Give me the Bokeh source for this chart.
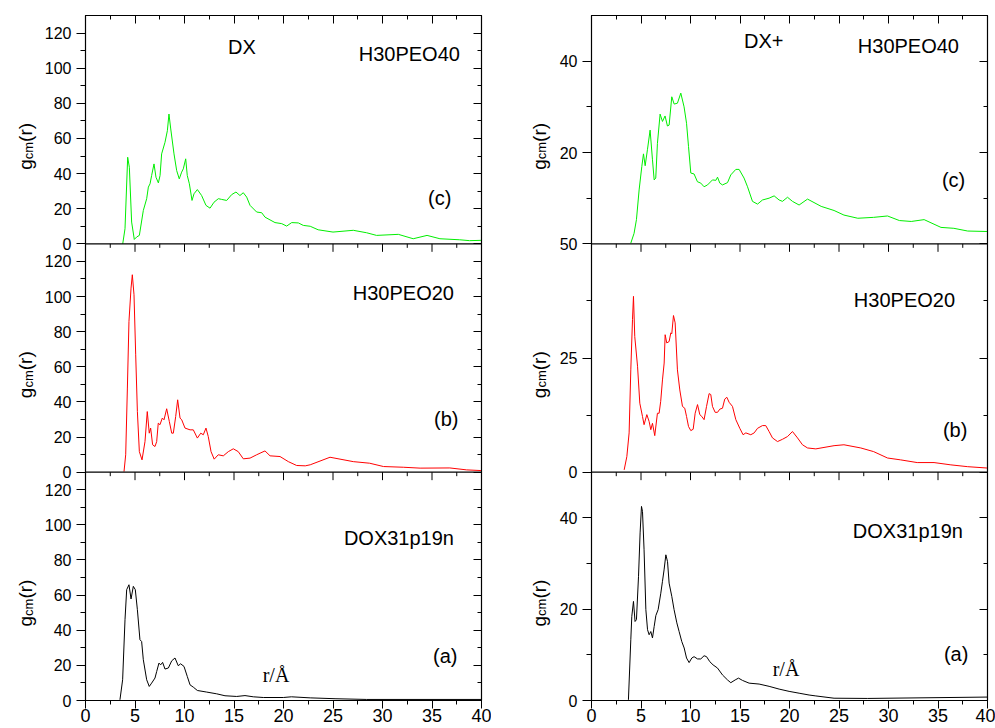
import math
from bokeh.plotting import figure
from bokeh.models import Range1d, LinearAxis, FixedTicker, Label, Span
from bokeh.layouts import row
from bokeh.embed import file_html
from bokeh.resources import INLINE

# ---------------- data ----------------
# Left column: DX
dx_c_r = [3.76, 3.99, 4.26, 4.43, 4.66, 4.93, 5.17, 5.44, 5.84, 6.18, 6.35, 6.52, 6.68, 6.92, 7.12, 7.36,
          7.53, 7.69, 8.03, 8.27, 8.43, 8.61, 8.94, 9.21, 9.47, 9.71, 9.88, 10.12, 10.28, 10.49, 10.76,
          10.96, 11.3, 11.73, 12.17, 12.58, 12.98, 13.42, 13.75, 14.26, 14.76, 15.2, 15.6, 15.94, 16.28,
          16.62, 17.29, 17.8, 18.13, 19.14, 19.82, 20.32, 20.83, 21.5, 22.0, 22.7, 23.5, 25.0, 27.05,
          28.4, 29.4, 31.6, 33.1, 34.5, 35.8, 37.8, 38.8, 40.0]
dx_c_g = [0, 8.6, 49.3, 43.6, 12.4, 2.5, 3.9, 4.8, 19, 25.7, 32.3, 34.2, 38.9, 45.5, 37.9, 34.7, 38.9,
          51.2, 57.8, 64.4, 73.9, 65.4, 51.2, 41.7, 37, 40.8, 42.7, 48.4, 38.9, 34.2, 24.7, 28.5, 30.9,
          27.5, 21.9, 20.3, 23.7, 25.7, 25.3, 24.7, 28, 29.5, 27.5, 29.1, 26.6, 21.9, 18.1, 17.7, 15.2,
          12.1, 11.5, 10.1, 12.1, 11.9, 10.5, 10, 8, 6.7, 7.7, 6.3, 4.8, 5.4, 2.9, 4.8, 2.9, 2.3, 1.8, 2.0]

dx_b_r = [3.89, 4.06, 4.23, 4.39, 4.6, 4.73, 4.9, 5.07, 5.24, 5.44, 5.71, 6.01, 6.24, 6.44, 6.58, 6.78,
          7.02, 7.19, 7.35, 7.52, 7.76, 7.93, 8.2, 8.47, 8.71, 8.87, 9.11, 9.31, 9.55, 9.72, 10.05, 10.56,
          10.89, 11.3, 11.64, 11.9, 12.17, 12.4, 12.68, 13.0, 13.41, 13.92, 14.43, 14.93, 15.43, 15.94,
          16.62, 17.29, 17.63, 18.13, 18.64, 19.65, 20.49, 21.33, 22.2, 22.7, 24.7, 27.05, 28.7, 30.1,
          32.1, 33.8, 36.8, 38.5, 40.0]
dx_b_g = [0.3, 9.9, 47.9, 85.8, 104.8, 112.4, 101, 66.8, 34.5, 11.7, 7, 17.4, 34.5, 22.2, 25.1, 15.6,
          14.6, 17.4, 27.9, 27, 30.8, 29.8, 36.1, 28.8, 22.2, 22.2, 31.7, 41.2, 30.8, 29.8, 25.1, 24.1,
          24.1, 19.4, 22.2, 21.3, 25.1, 20.3, 11.7, 7.4, 9.9, 9.3, 11.7, 13.3, 11.7, 7.6, 8, 9.9, 10.8,
          12.1, 9.3, 8.9, 6, 3.8, 3.6, 4.2, 8.5, 6, 5.1, 3.2, 2.8, 2.3, 2.4, 1.3, 0.9]

dx_a_r = [3.48, 3.75, 3.99, 4.16, 4.39, 4.6, 4.83, 5.03, 5.24, 5.5, 5.67, 5.84, 6.18, 6.44, 6.68, 7.02,
          7.19, 7.42, 7.59, 7.79, 8.03, 8.37, 8.71, 9.04, 9.37, 9.61, 9.95, 10.28, 10.56, 10.89, 11.3,
          12.24, 13.25, 14.09, 15.27, 16.11, 16.95, 17.96, 19.98, 20.8, 22.7, 25.3, 28.4, 40.0]
dx_a_g = [0.4, 11.8, 46, 63.1, 65.9, 57.8, 65, 63.1, 51.7, 34.6, 33.6, 23.2, 11.8, 8, 9.9, 12.8, 16.5,
          21.3, 20.3, 21.7, 17.9, 18.5, 22.6, 24.2, 19.8, 20.9, 19.4, 13.7, 8.9, 7.6, 5.7, 4.8, 3.8, 2.7,
          2.3, 2.8, 2.1, 1.7, 1.7, 2.1, 1.5, 1.0, 0.6, 0.6]

# Right column: DX+
dxp_c_r = [3.97, 4.3, 4.54, 4.81, 5.08, 5.25, 5.42, 5.65, 5.92, 6.16, 6.33, 6.49, 6.66, 6.93, 7.17, 7.43,
           7.67, 7.84, 8.11, 8.35, 8.68, 9.02, 9.35, 9.6, 9.8, 10.03, 10.36, 10.7, 11.04, 11.37, 11.72,
           12.22, 12.56, 12.73, 12.96, 13.23, 13.74, 14.07, 14.58, 14.91, 15.41, 15.76, 16.26, 16.77,
           17.27, 17.94, 18.45, 18.95, 19.29, 19.8, 20.3, 20.97, 21.82, 23.2, 24.5, 25.5, 26.9, 28.5,
           29.9, 31.1, 32.3, 33.6, 35.3, 36.6, 38.0, 40.0]
dxp_c_g = [0.15, 2.3, 5.3, 11.8, 16.9, 19.7, 17.1, 20.6, 24.9, 18.4, 14, 14.4, 22, 28.4, 26.8, 28, 25.8,
           26, 32.2, 30.6, 30.8, 33, 30, 26.4, 21.3, 15.5, 15.3, 13.6, 13.3, 12.5, 12.9, 14, 13.9, 14.6,
           13.3, 12.9, 13.4, 15.1, 16.3, 16.3, 14.4, 12.5, 9.3, 8.7, 9.6, 10, 10.5, 9.6, 9.3, 10.2, 9.3,
           8.5, 9.8, 8.2, 7.3, 6.3, 5.6, 5.8, 6.1, 5.1, 4.9, 5.3, 3.6, 3.4, 2.8, 2.7]

dxp_b_r = [3.3, 3.57, 3.8, 3.97, 4.14, 4.24, 4.37, 4.65, 4.88, 5.15, 5.31, 5.59, 5.82, 5.99, 6.16, 6.39,
           6.66, 6.83, 6.99, 7.17, 7.34, 7.44, 7.6, 7.84, 8.01, 8.11, 8.28, 8.45, 8.68, 8.92, 9.19, 9.42,
           9.6, 9.8, 10.03, 10.27, 10.47, 10.71, 10.94, 11.14, 11.37, 11.62, 11.88, 12.05, 12.22, 12.49,
           12.73, 12.96, 13.23, 13.46, 13.67, 13.9, 14.24, 14.58, 14.98, 15.31, 15.59, 16.09, 16.43,
           16.77, 17.27, 17.6, 17.94, 18.28, 18.79, 19.29, 19.8, 20.3, 20.81, 21.31, 21.82, 22.66, 24.5,
           25.5, 27.2, 28.5, 29.9, 31.2, 32.9, 34.6, 36.3, 38.0, 40.0]
dxp_b_g = [0.5, 3.4, 8.6, 22.4, 33.4, 38.5, 29.7, 23.2, 15.1, 12.2, 10.4, 12.6, 11.1, 9.3, 10.7, 8, 12.9,
           12.9, 15.5, 20.2, 23.9, 30.1, 28.3, 28.6, 30.5, 30.3, 34.3, 32.7, 22.4, 18, 14.4, 14, 12.2, 10,
           9.1, 9.4, 12.9, 14.8, 12.6, 12.2, 11.5, 14.4, 17.2, 17, 14.4, 13.1, 13.1, 13.8, 14, 16, 16.4,
           15.3, 14.4, 11.5, 9.6, 8.2, 8.6, 8.2, 8.6, 9.6, 10.2, 10.2, 8.9, 7.5, 6.7, 7.2, 7.8, 8.9, 7.5,
           6, 5.3, 5.1, 5.8, 6, 5.3, 4.5, 3.1, 2.7, 2.1, 2.1, 1.6, 1.2, 0.9]

dxp_a_r = [3.73, 3.97, 4.07, 4.24, 4.4, 4.54, 4.75, 4.91, 5.05, 5.15, 5.31, 5.49, 5.66, 5.82, 5.99, 6.16,
           6.33, 6.5, 6.73, 7.0, 7.17, 7.33, 7.51, 7.68, 7.84, 8.11, 8.34, 8.62, 8.85, 9.12, 9.36, 9.6,
           9.86, 10.13, 10.36, 10.71, 11.04, 11.37, 11.62, 11.95, 12.28, 12.73, 13.23, 13.74, 14.07,
           14.51, 14.85, 15.25, 15.92, 16.93, 17.94, 18.95, 19.96, 20.97, 21.98, 22.66, 24.5, 27.9, 40.0]
dxp_a_g = [0.15, 13.3, 18.4, 21.7, 17.3, 17.7, 27.2, 36.7, 42.5, 41.4, 33, 19.9, 15.5, 14.4, 15.1, 13.7,
           16.2, 18.6, 19.9, 23.5, 26.1, 28.6, 31.9, 30.4, 25.7, 22.8, 19.9, 17, 15.1, 12.9, 11.5, 9.3,
           8.3, 9.3, 9.6, 9.1, 9.1, 9.8, 9.6, 8.5, 7.8, 7.1, 5.6, 4.5, 3.9, 4.5, 4.9, 4.4, 3.8, 3.6, 3.1,
           2.5, 2, 1.6, 1.2, 1.0, 0.5, 0.45, 0.75]

x_major = [0, 5, 10, 15, 20, 25, 30, 35, 40]
x_minor = [2.5, 7.5, 12.5, 17.5, 22.5, 27.5, 32.5, 37.5]

# y ticks of each panel (panel units)
left_major = [0, 20, 40, 60, 80, 100, 120]
left_minor = [10, 30, 50, 70, 90, 110]
right_a_major, right_a_minor = [0, 20, 40], [10, 30]
right_b_major, right_b_minor = [0, 25, 50], [12.5, 37.5]
right_c_major, right_c_minor = [20, 40], [10, 30]

FONT = "Liberation Sans"
SERIF = "Liberation Serif"

TOP, BOT = 15, 28
H = 728
FRAME_H = H - TOP - BOT


def num(v):
    return int(v) if float(v).is_integer() else v


def panel_ranges(span, n):
    total = span * n
    names = ["a", "b", "c"][:n]
    return {name: Range1d(-i * span, total - i * span) for i, name in enumerate(names)}


def build(width, bl, br, span, panels, ticks):
    """panels: list of (name, xs, ys, color) from bottom to top; each panel spans `span` units."""
    n = len(panels)
    total = span * n
    p = figure(width=width, height=H, output_backend="svg", toolbar_location=None,
               x_range=Range1d(0, 40), y_range=Range1d(0, total),
               x_axis_location=None, y_axis_location=None,
               min_border_left=bl, min_border_right=br, min_border_top=TOP, min_border_bottom=BOT,
               background_fill_color="white", border_fill_color="white")
    p.xgrid.visible = False
    p.ygrid.visible = False
    p.outline_line_color = "black"
    p.outline_line_width = 1.2
    p.extra_y_ranges = panel_ranges(span, n)

    major, minor, over = ticks
    ya = LinearAxis(ticker=FixedTicker(ticks=major, minor_ticks=minor),
                    major_label_overrides=over,
                    major_tick_out=9, major_tick_in=0, minor_tick_out=5, minor_tick_in=0,
                    major_label_standoff=5, major_label_text_font=FONT,
                    major_label_text_font_size="16px", major_label_text_color="black",
                    axis_line_color="black")
    p.add_layout(ya, "left")
    ra = LinearAxis(ticker=FixedTicker(ticks=major, minor_ticks=minor),
                    major_tick_in=8, major_tick_out=0, minor_tick_in=4, minor_tick_out=0,
                    major_label_text_color=None, axis_line_color="black")
    p.add_layout(ra, "right")
    ta = LinearAxis(ticker=FixedTicker(ticks=x_major, minor_ticks=x_minor),
                    major_tick_in=8, major_tick_out=0, minor_tick_in=4, minor_tick_out=0,
                    major_label_text_color=None, axis_line_color="black")
    p.add_layout(ta, "above")
    xa = LinearAxis(ticker=FixedTicker(ticks=x_major, minor_ticks=x_minor),
                    major_tick_out=8, major_tick_in=0, minor_tick_out=4, minor_tick_in=0,
                    major_label_standoff=0, major_label_text_font=FONT,
                    major_label_text_font_size="18px", major_label_text_color="black",
                    axis_line_color="black")
    p.add_layout(xa, "below")

    # panel boundaries with downward (inward) x ticks of the panel below
    unit = FRAME_H / total
    for i in range(1, n):
        b = i * span
        p.add_layout(Span(location=b, dimension="width", line_color="black", line_width=1.2))
        p.segment(x0=x_major, y0=[b] * len(x_major), x1=x_major,
                  y1=[b - 8 / unit] * len(x_major), line_color="black", line_width=1)
        p.segment(x0=x_minor, y0=[b] * len(x_minor), x1=x_minor,
                  y1=[b - 4 / unit] * len(x_minor), line_color="black", line_width=1)

    for name, xs, ys, color in panels:
        p.line(xs, ys, line_color=color, line_width=1, y_range_name=name)
    return p, unit


def label_strip(width, span, n):
    """A narrow figure (no axes) that holds the rotated y titles next to a column."""
    p = figure(width=width, height=H, output_backend="svg", toolbar_location=None,
               x_range=Range1d(0, width), y_range=Range1d(0, span * n),
               x_axis_location=None, y_axis_location=None,
               min_border_left=0, min_border_right=0, min_border_top=TOP, min_border_bottom=BOT,
               background_fill_color="white", border_fill_color="white", outline_line_color=None)
    p.xgrid.visible = False
    p.ygrid.visible = False
    p.extra_y_ranges = panel_ranges(span, n)
    return p


def ylabel(p, unit, rname, x_main, x_sub, y0):
    F, S = 19, 13
    gw = 0.556 * F / unit
    cmw = (0.5 + 0.833) * S / unit
    common = dict(angle=math.pi / 2, y_range_name=rname,
                  text_font=FONT, text_color="black", text_align="left", text_baseline="middle")
    p.add_layout(Label(x=x_main, y=y0, text="g", text_font_size=f"{F}px", **common))
    p.add_layout(Label(x=x_sub, y=y0 + gw, text="cm", text_font_size=f"{S}px", **common))
    p.add_layout(Label(x=x_main, y=y0 + gw + cmw, text="(r)", text_font_size=f"{F}px", **common))


def txt(p, rname, x, y, s, size=20, font=FONT):
    p.add_layout(Label(x=x, y=y, text=s, text_font=font, text_font_size=f"{size}px",
                       y_range_name=rname, text_color="black",
                       text_align="left", text_baseline="middle"))


# ---- left column ticks ----
SPAN_L = 130
l_major, l_minor, l_over = [], [], {}
for i in range(3):
    for v in left_major:
        t = num(i * SPAN_L + v)
        l_major.append(t)
        l_over[t] = str(v)
    for v in left_minor:
        l_minor.append(num(i * SPAN_L + v))

# ---- right column ticks ----
SPAN_R = 50
r_major, r_minor, r_over = [], [], {}
for i, (mj, mn) in enumerate([(right_a_major, right_a_minor), (right_b_major, right_b_minor),
                              (right_c_major, right_c_minor)]):
    for v in mj:
        t = num(i * SPAN_R + v)
        if t not in r_over:
            r_major.append(t)
        r_over[t] = str(v)
    for v in mn:
        r_minor.append(num(i * SPAN_R + v))

left, lu = build(451, 45, 10, SPAN_L,
                 [("a", dx_a_r, dx_a_g, "black"), ("b", dx_b_r, dx_b_g, "#FF0000"),
                  ("c", dx_c_r, dx_c_g, "#00EE00")],
                 (l_major, l_minor, l_over))
right, ru = build(442, 38, 8, SPAN_R,
                  [("a", dxp_a_r, dxp_a_g, "black"), ("b", dxp_b_r, dxp_b_g, "#FF0000"),
                   ("c", dxp_c_r, dxp_c_g, "#00EE00")],
                  (r_major, r_minor, r_over))

strip_l = label_strip(40, SPAN_L, 3)
strip_r = label_strip(62, SPAN_R, 3)

# y-axis titles g_cm(r)
for rn in ("a", "b", "c"):
    ylabel(strip_l, lu, rn, 25, 27.5, 74 / lu)
    ylabel(strip_r, ru, rn, 47.5, 50, 74 / ru)

# panel texts
txt(left, "c", 14.4, 112.0, "DX")
txt(left, "c", 27.6, 108.2, "H30PEO40")
txt(left, "c", 34.6, 26.0, "(c)")
txt(left, "b", 27.0, 102.0, "H30PEO20")
txt(left, "b", 35.2, 30.0, "(b)")
txt(left, "a", 26.1, 92.8, "DOX31p19n")
txt(left, "a", 35.1, 25.2, "(a)")
txt(left, "a", 17.9, 14.3, "r/Å", 20, SERIF)

txt(right, "c", 15.4, 44.5, "DX+")
txt(right, "c", 26.9, 43.4, "H30PEO40")
txt(right, "c", 35.4, 13.9, "(c)")
txt(right, "b", 26.5, 37.6, "H30PEO20")
txt(right, "b", 35.5, 9.15, "(b)")
txt(right, "a", 26.4, 37.2, "DOX31p19n")
txt(right, "a", 35.6, 10.2, "(a)")
txt(right, "a", 18.3, 7.0, "r/Å", 20, SERIF)

layout = row(strip_l, left, strip_r, right)

open("out.html", "w").write(file_html(layout, INLINE))
